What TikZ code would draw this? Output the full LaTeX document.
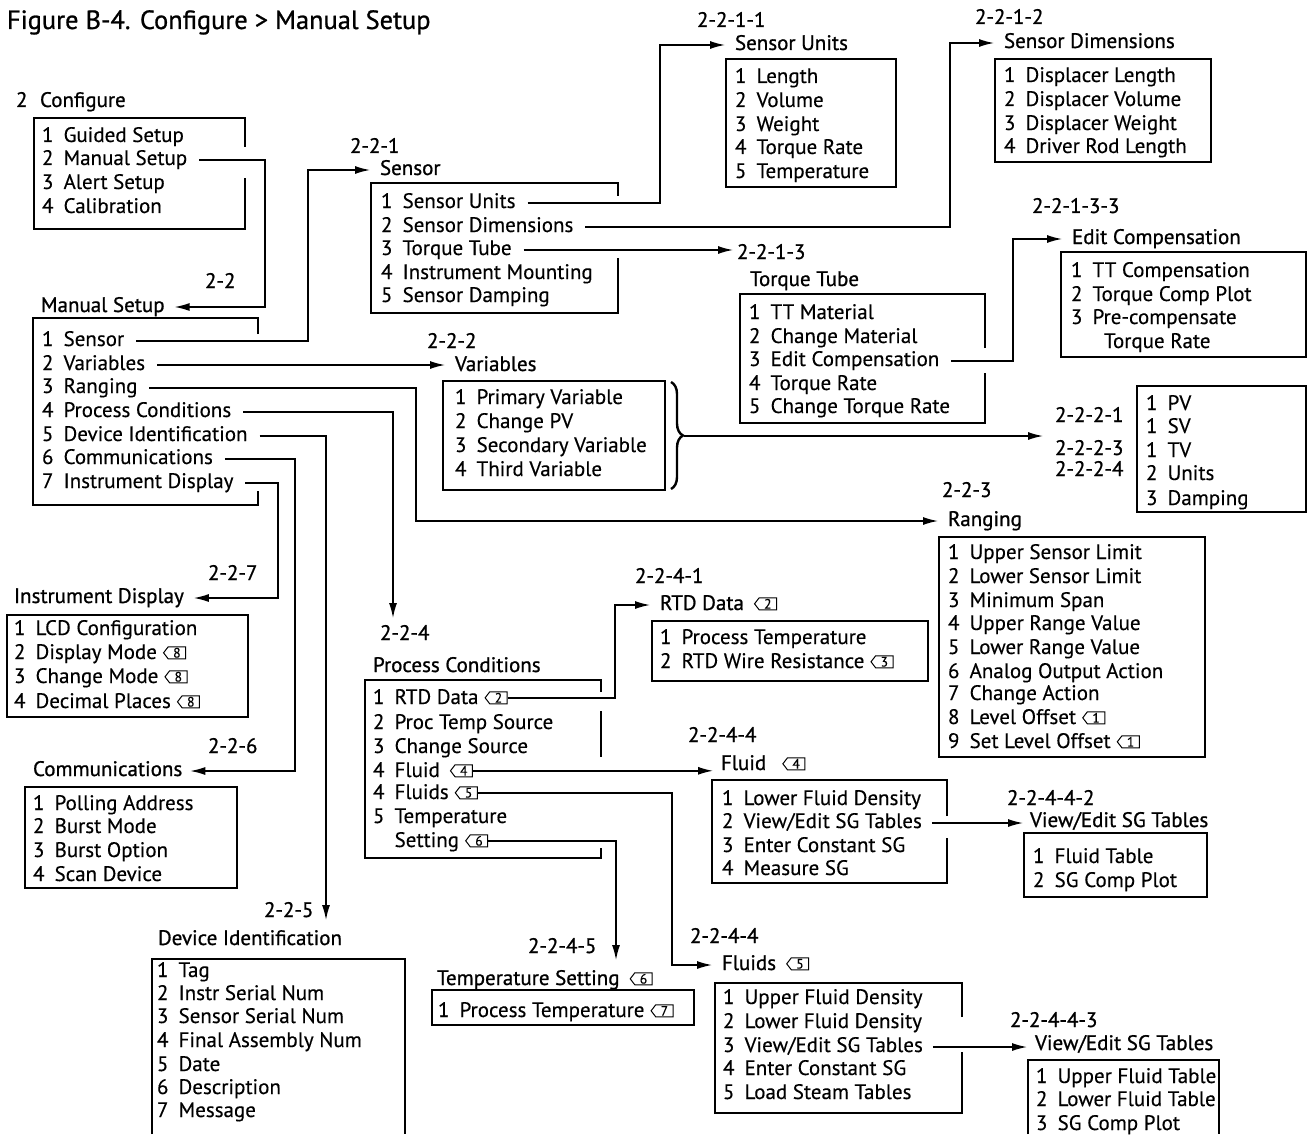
\documentclass[tikz,border=0pt]{standalone}
\usepackage{fontspec}
\setmainfont{PT Sans}
\newfontfamily\itemf{PT Sans}[FakeBold=0.35]
\newfontfamily\headf{PT Sans}[FakeBold=0.9]
\usetikzlibrary{arrows.meta,shapes.symbols,calc,decorations.pathreplacing}
\newcommand{\mfs}{\itemf\fontsize{10.5}{12}\selectfont}
\newcommand{\hfs}{\headf\fontsize{10.5}{12}\selectfont}
\newcommand{\nm}[2]{\makebox[10.8pt][l]{#1}#2}
\newcommand{\tagat}[4][3pt]{\node[tg] (#2) at ([xshift=#1,yshift=0.6pt]#3.mid east) {#4};}
\begin{document}
\begin{tikzpicture}[x=0.5pt,y=-0.5pt,
  txt/.style={anchor=base west,inner sep=0pt,outer sep=0pt,font=\mfs},
  hd/.style={anchor=base west,inner sep=0pt,outer sep=0pt,font=\hfs},
  ttl/.style={anchor=base west,inner sep=0pt,outer sep=0pt,font=\headf\fontsize{13.2}{15}\selectfont},
  bx/.style={line width=0.7pt},
  ar/.style={line width=0.7pt,-{Latex[length=7.5pt,width=4pt]}},
  tg/.style={signal,signal to=west,draw,line width=0.5pt,minimum width=11pt,minimum height=6pt,inner sep=0.2pt,font=\itemf\fontsize{6.8}{7}\selectfont,anchor=west,signal pointer angle=105}]
\useasboundingbox (0,0) rectangle (1309,1134);

\node[ttl] (title) at (7,29) {Figure B-4. Configure > Manual Setup};

% ---------- Configure
\node[hd] (hCfg) at (16,107) {\makebox[12pt][l]{2}Configure};
\draw[bx] (245,147) -- (245,118) -- (34,118) -- (34,229) -- (245,229) -- (245,178);
\node[txt] (c1) at (42,142) {\nm{1}{Guided Setup}};
\node[txt] (c2) at (42,165) {\nm{2}{Manual Setup}};
\node[txt] (c3) at (42,189) {\nm{3}{Alert Setup}};
\node[txt] (c4) at (42,213) {\nm{4}{Calibration}};

% ---------- Manual Setup
\node[hd] (l22) at (205,288) {2-2};
\node[hd] (hMS) at (41,312) {Manual Setup};
\coordinate (k1) at (265,0);
\draw[ar] ([xshift=6pt]c2.mid east) -| (k1 |- hMS.mid east) -- ([xshift=5pt]hMS.mid east);
\draw[bx] (258,334) -- (258,318) -- (33,318) -- (33,505) -- (258,505) -- (258,491);
\node[txt] (m1) at (42,346) {\nm{1}{Sensor}};
\node[txt] (m2) at (42,370) {\nm{2}{Variables}};
\node[txt] (m3) at (42,393) {\nm{3}{Ranging}};
\node[txt] (m4) at (42,417) {\nm{4}{Process Conditions}};
\node[txt] (m5) at (42,441) {\nm{5}{Device Identification}};
\node[txt] (m6) at (42,464) {\nm{6}{Communications}};
\node[txt] (m7) at (42,488) {\nm{7}{Instrument Display}};

% ---------- Sensor
\node[hd] (l221) at (350,153) {2-2-1};
\node[hd] (hSen) at (380,175) {Sensor};
\coordinate (k2) at (308,0);
\draw[ar] ([xshift=6pt]m1.mid east) -| (k2 |- hSen.mid west) -- ([xshift=-5pt]hSen.mid west);
\draw[bx] (618,196) -- (618,183) -- (371,183) -- (371,313) -- (618,313) -- (618,258);
\node[txt] (s1) at (381,208) {\nm{1}{Sensor Units}};
\node[txt] (s2) at (381,232) {\nm{2}{Sensor Dimensions}};
\node[txt] (s3) at (381,255) {\nm{3}{Torque Tube}};
\node[txt] (s4) at (381,279) {\nm{4}{Instrument Mounting}};
\node[txt] (s5) at (381,302) {\nm{5}{Sensor Damping}};

% ---------- Sensor Units
\node[hd] (l2211) at (697,27) {2-2-1-1};
\node[hd] (hSU) at (735,50) {Sensor Units};
\coordinate (k8) at (660,0);
\draw[ar] ([xshift=6pt]s1.mid east) -| (k8 |- hSU.mid west) -- ([xshift=-5pt]hSU.mid west);
\draw[bx] (726,59) rectangle (896,187);
\node[txt] (su1) at (735,83) {\nm{1}{Length}};
\node[txt] (su2) at (735,107) {\nm{2}{Volume}};
\node[txt] (su3) at (735,131) {\nm{3}{Weight}};
\node[txt] (su4) at (735,154) {\nm{4}{Torque Rate}};
\node[txt] (su5) at (735,178) {\nm{5}{Temperature}};

% ---------- Sensor Dimensions
\node[hd] (l2212) at (975,24) {2-2-1-2};
\node[hd] (hSD) at (1004,48) {Sensor Dimensions};
\coordinate (k9) at (950,0);
\draw[ar] ([xshift=6pt]s2.mid east) -| (k9 |- hSD.mid west) -- ([xshift=-5pt]hSD.mid west);
\draw[bx] (995,59) rectangle (1211,162);
\node[txt] (sd1) at (1004,82) {\nm{1}{Displacer Length}};
\node[txt] (sd2) at (1004,106) {\nm{2}{Displacer Volume}};
\node[txt] (sd3) at (1004,130) {\nm{3}{Displacer Weight}};
\node[txt] (sd4) at (1004,153) {\nm{4}{Driver Rod Length}};

% ---------- Torque Tube
\node[hd] (l2213) at (737,259) {2-2-1-3};
\node[hd] (hTT) at (750,286) {Torque Tube};
\draw[ar] ([xshift=6pt]s3.mid east) -- ($(s3.mid east -| l2213.west)+(-4,0)$);
\draw[bx] (985,348) -- (985,294) -- (740,294) -- (740,423) -- (985,423) -- (985,373);
\node[txt] (t1) at (749,319) {\nm{1}{TT Material}};
\node[txt] (t2) at (749,343) {\nm{2}{Change Material}};
\node[txt] (t3) at (749,366) {\nm{3}{Edit Compensation}};
\node[txt] (t4) at (749,390) {\nm{4}{Torque Rate}};
\node[txt] (t5) at (749,413) {\nm{5}{Change Torque Rate}};

% ---------- Edit Compensation
\node[hd] (l22133) at (1032,213) {2-2-1-3-3};
\node[hd] (hEC) at (1072,244) {Edit Compensation};
\coordinate (k10) at (1013,0);
\draw[ar] ([xshift=6pt]t3.mid east) -| (k10 |- hEC.mid west) -- ([xshift=-5pt]hEC.mid west);
\draw[bx] (1061,252) rectangle (1306,357);
\node[txt] (e1) at (1071,277) {\nm{1}{TT Compensation}};
\node[txt] (e2) at (1071,301) {\nm{2}{Torque Comp Plot}};
\node[txt] (e3) at (1071,324) {\nm{3}{Pre-compensate}};
\node[txt] (e3b) at (1104,348) {Torque Rate};

% ---------- Variables
\node[hd] (l222) at (427,348) {2-2-2};
\node[hd] (hVar) at (455,371) {Variables};
\draw[ar] ([xshift=6pt]m2.mid east) -- ($(m2.mid east -| hVar.west)+(-10,0)$);
\draw[bx] (443,381) rectangle (665,490);
\node[txt] (v1) at (455,404) {\nm{1}{Primary Variable}};
\node[txt] (v2) at (455,428) {\nm{2}{Change PV}};
\node[txt] (v3) at (455,452) {\nm{3}{Secondary Variable}};
\node[txt] (v4) at (455,476) {\nm{4}{Third Variable}};
\draw[line width=1.2pt,decorate,decoration={brace,amplitude=6pt}] (671,382) -- (671,489);
\coordinate (braceTip) at (684,436);
\node[hd] (l2221) at (1055,422) {2-2-2-1};
\node[hd] (l2223) at (1055,455) {2-2-2-3};
\node[hd] (l2224) at (1055,476) {2-2-2-4};
\draw[ar] (braceTip) -- ($(braceTip -| l2221.west)+(-12,0)$);
\draw[bx] (1137,386) rectangle (1306,512);
\node[txt] (p1) at (1146,410) {\nm{1}{PV}};
\node[txt] (p2) at (1146,433) {\nm{1}{SV}};
\node[txt] (p3) at (1146,457) {\nm{1}{TV}};
\node[txt] (p4) at (1146,480) {\nm{2}{Units}};
\node[txt] (p5) at (1146,505) {\nm{3}{Damping}};

% ---------- Ranging
\node[hd] (l223) at (942,497) {2-2-3};
\node[hd] (hRng) at (948,526) {Ranging};
\coordinate (k3) at (416,0);
\draw[ar] ([xshift=6pt]m3.mid east) -| (k3 |- hRng.mid west) -- ([xshift=-5pt]hRng.mid west);
\draw[bx] (939,537) rectangle (1205,757);
\node[txt] (r1) at (948,559) {\nm{1}{Upper Sensor Limit}};
\node[txt] (r2) at (948,583) {\nm{2}{Lower Sensor Limit}};
\node[txt] (r3) at (948,607) {\nm{3}{Minimum Span}};
\node[txt] (r4) at (948,630) {\nm{4}{Upper Range Value}};
\node[txt] (r5) at (948,654) {\nm{5}{Lower Range Value}};
\node[txt] (r6) at (948,678) {\nm{6}{Analog Output Action}};
\node[txt] (r7) at (948,700) {\nm{7}{Change Action}};
\node[txt] (r8) at (948,724) {\nm{8}{Level Offset}};
\node[txt] (r9) at (948,748) {\nm{9}{Set Level Offset}};
\tagat{tr8}{r8}{1}
\tagat{tr9}{r9}{1}

% ---------- Instrument Display
\node[hd] (l227) at (208,580) {2-2-7};
\node[hd] (hID) at (14,603) {Instrument Display};
\coordinate (k7) at (278,0);
\draw[ar] ([xshift=6pt]m7.mid east) -| (k7 |- hID.mid east) -- ([xshift=5pt]hID.mid east);
\draw[bx] (7,615) rectangle (248,717);
\node[txt] (i1) at (14,635) {\nm{1}{LCD Configuration}};
\node[txt] (i2) at (14,659) {\nm{2}{Display Mode}};
\node[txt] (i3) at (14,683) {\nm{3}{Change Mode}};
\node[txt] (i4) at (14,708) {\nm{4}{Decimal Places}};
\tagat{ti2}{i2}{8}
\tagat{ti3}{i3}{8}
\tagat{ti4}{i4}{8}

% ---------- Communications
\node[hd] (l226) at (208,753) {2-2-6};
\node[hd] (hCom) at (33,776) {Communications};
\coordinate (k6) at (295,0);
\draw[ar] ([xshift=6pt]m6.mid east) -| (k6 |- hCom.mid east) -- ([xshift=4pt]hCom.mid east);
\draw[bx] (25,787) rectangle (237,888);
\node[txt] (co1) at (33,810) {\nm{1}{Polling Address}};
\node[txt] (co2) at (33,833) {\nm{2}{Burst Mode}};
\node[txt] (co3) at (33,857) {\nm{3}{Burst Option}};
\node[txt] (co4) at (33,881) {\nm{4}{Scan Device}};

% ---------- Device Identification
\coordinate (tDI) at (326,920);
\draw[ar] ([xshift=6pt]m5.mid east) -| (tDI);
\node[hd] (l225) at (264,917) {2-2-5};
\node[hd] (hDI) at (158,945) {Device Identification};
\draw[bx] (152,1134) -- (152,959) -- (405,959) -- (405,1134);
\node[txt] (d1) at (157,977) {\nm{1}{Tag}};
\node[txt] (d2) at (157,1000) {\nm{2}{Instr Serial Num}};
\node[txt] (d3) at (157,1023) {\nm{3}{Sensor Serial Num}};
\node[txt] (d4) at (157,1047) {\nm{4}{Final Assembly Num}};
\node[txt] (d5) at (157,1071) {\nm{5}{Date}};
\node[txt] (d6) at (157,1094) {\nm{6}{Description}};
\node[txt] (d7) at (157,1117) {\nm{7}{Message}};

% ---------- Process Conditions
\coordinate (tPC) at (393,618);
\draw[ar] ([xshift=6pt]m4.mid east) -| (tPC);
\node[hd] (l224) at (380,640) {2-2-4};
\node[hd] (hPC) at (373,672) {Process Conditions};
\draw[bx] (601,692) -- (601,680) -- (365,680) -- (365,858) -- (601,858) -- (601,848);
\draw[bx] (601,711) -- (601,757);
\node[txt] (pc1) at (373,704) {\nm{1}{RTD Data}};
\node[txt] (pc2) at (373,729) {\nm{2}{Proc Temp Source}};
\node[txt] (pc3) at (373,753) {\nm{3}{Change Source}};
\node[txt] (pc4) at (373,777) {\nm{4}{Fluid}};
\node[txt] (pc5) at (373,799) {\nm{4}{Fluids}};
\node[txt] (pc6) at (373,823) {\nm{5}{Temperature}};
\node[txt] (pc7) at (373,847) {\nm{}{Setting}};
\tagat{tpc1}{pc1}{2}
\tagat[5pt]{tpc4}{pc4}{4}
\tagat{tpc5}{pc5}{5}
\tagat{tpc7}{pc7}{6}

% ---------- RTD Data
\node[hd] (l2241) at (635,583) {2-2-4-1};
\node[hd] (hRTD) at (660,610) {RTD Data};
\tagat[5pt]{thRTD}{hRTD}{2}
\coordinate (k11) at (615,0);
\draw[ar] (tpc1.east) -| (k11 |- hRTD.mid west) -- ([xshift=-5pt]hRTD.mid west);
\draw[bx] (652,621) rectangle (928,681);
\node[txt] (rt1) at (660,644) {\nm{1}{Process Temperature}};
\node[txt] (rt2) at (660,668) {\nm{2}{RTD Wire Resistance}};
\tagat{trt2}{rt2}{3}

% ---------- Fluid
\node[hd] (l2244a) at (688,742) {2-2-4-4};
\node[hd] (hFl) at (721,770) {Fluid};
\tagat[8pt]{thFl}{hFl}{4}
\draw[ar] (tpc4.east) -- ($(tpc4.east -| hFl.west)+(-8,0)$);
\draw[bx] (947,816) -- (947,780) -- (712,780) -- (712,883) -- (947,883) -- (947,838);
\node[txt] (f1) at (722,805) {\nm{1}{Lower Fluid Density}};
\node[txt] (f2) at (722,828) {\nm{2}{View/Edit SG Tables}};
\node[txt] (f3) at (722,852) {\nm{3}{Enter Constant SG}};
\node[txt] (f4) at (722,875) {\nm{4}{Measure SG}};

% ---------- View/Edit SG Tables (2-2-4-4-2)
\node[hd] (l22442) at (1007,805) {2-2-4-4-2};
\node[hd] (hVE2) at (1030,827) {View/Edit SG Tables};
\draw[ar] ([xshift=5pt]f2.mid east) -- ($(f2.mid east -| hVE2.west)+(-7,0)$);
\draw[bx] (1024,833) rectangle (1207,897);
\node[txt] (g1) at (1033,863) {\nm{1}{Fluid Table}};
\node[txt] (g2) at (1033,887) {\nm{2}{SG Comp Plot}};

% ---------- Temperature Setting
\coordinate (tTS) at (616,960);
\draw[ar] (tpc7.east) -| (tTS);
\node[hd] (l2245) at (528,953) {2-2-4-5};
\node[hd] (hTS) at (437,985) {Temperature Setting};
\tagat[5pt]{thTS}{hTS}{6}
\draw[bx] (432,990) rectangle (694,1025);
\node[txt] (ts1) at (438,1017) {\nm{1}{Process Temperature}};
\tagat{tts1}{ts1}{7}

% ---------- Fluids
\node[hd] (l2244b) at (690,943) {2-2-4-4};
\node[hd] (hFls) at (722,970) {Fluids};
\tagat[5pt]{thFls}{hFls}{5}
\coordinate (k12) at (672,0);
\draw[ar] (tpc5.east) -| (k12 |- hFls.mid west) -- ([xshift=-5pt]hFls.mid west);
\draw[bx] (962,1017) -- (962,983) -- (715,983) -- (715,1113) -- (962,1113) -- (962,1052);
\node[txt] (fs1) at (723,1004) {\nm{1}{Upper Fluid Density}};
\node[txt] (fs2) at (723,1028) {\nm{2}{Lower Fluid Density}};
\node[txt] (fs3) at (723,1052) {\nm{3}{View/Edit SG Tables}};
\node[txt] (fs4) at (723,1075) {\nm{4}{Enter Constant SG}};
\node[txt] (fs5) at (723,1099) {\nm{5}{Load Steam Tables}};

% ---------- View/Edit SG Tables (2-2-4-4-3)
\node[hd] (l22443) at (1010,1027) {2-2-4-4-3};
\node[hd] (hVE3) at (1035,1050) {View/Edit SG Tables};
\draw[ar] ([xshift=5pt]fs3.mid east) -- ($(fs3.mid east -| hVE3.west)+(-8,0)$);
\draw[bx] (1028,1134) -- (1028,1060) -- (1219,1060) -- (1219,1134);
\node[txt] (h1) at (1036,1083) {\nm{1}{Upper Fluid Table}};
\node[txt] (h2) at (1036,1106) {\nm{2}{Lower Fluid Table}};
\node[txt] (h3) at (1036,1130) {\nm{3}{SG Comp Plot}};
\end{tikzpicture}
\end{document}
